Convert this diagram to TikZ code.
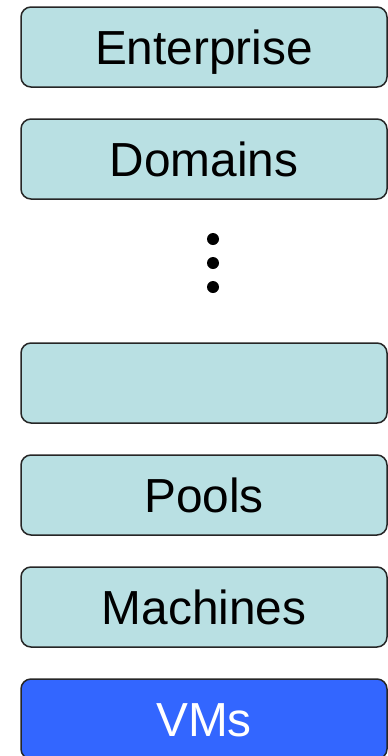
\documentclass[tikz,border=0pt]{standalone}
\usepackage{fontspec}
\setmainfont{Liberation Sans}
\usepackage{tikz}
\usetikzlibrary{positioning}
\definecolor{paleteal}{RGB}{185, 224, 227}
\definecolor{vmblue}{RGB}{51, 102, 255}
\tikzset{
  layer/.style={
    draw=black!85, line width=1.5pt, fill=paleteal,
    rounded corners=10pt,
    minimum width=366pt,
    minimum height=80pt,
    inner sep=0pt, outer sep=0pt,
    text height=34pt, text depth=0pt,
    font=\fontsize{47.8}{50}\selectfont
  },
  vmlayer/.style={layer, fill=vmblue, text=white},
  dot/.style={circle, fill=black, inner sep=0pt, outer sep=0pt, minimum size=12pt}
}

\begin{document}
\begin{tikzpicture}[x=1pt, y=1pt, node distance=32pt]
\useasboundingbox (0,0) rectangle (388,-756);

\node[layer] (ent) at (204,-47) {Enterprise};
\node[layer, below=of ent] (dom) {Domains};

% puntos intermedios
\node[dot] (d1) at (213,-239) {};
\node[dot, below=12pt of d1] (d2) {};
\node[dot, below=12pt of d2] (d3) {};

\node[layer, below=144pt of dom] (blank) {};
\node[layer, below=of blank] (pools) {Pools};
\node[layer, below=of pools] (mach) {Machines};
\node[vmlayer, below=of mach] (vms) {VMs};

\end{tikzpicture}
\end{document}
